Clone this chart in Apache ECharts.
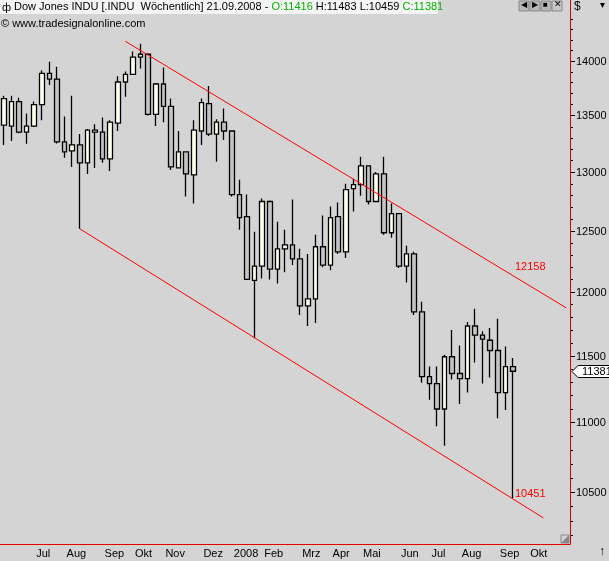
<!DOCTYPE html>
<html><head><meta charset="utf-8">
<script src="https://cdn.jsdelivr.net/npm/echarts@6/dist/echarts.min.js"></script>
<style>html,body{margin:0;padding:0;background:#d4d4d4}#c{width:609px;height:561px}</style>
</head><body><div id="c"></div>
<script>
// weekly OHLC: [open, close, low, high]
const ohlc = [
[13412,13652,13237,13679],[13404,13625,13272,13679],[13625,13351,13340,13661],[13351,13404,13246,13518],
[13404,13598,13395,13625],[13598,13884,13456,13911],[13884,13830,13777,13991],[13830,13263,13250,13946],
[13263,13175,13123,13491],[13184,13237,13044,13679],[13237,13079,12517,13333],[13079,13368,12983,13377],
[13351,13368,13035,13421],[13351,13114,13079,13482],[13114,13439,13009,13456],[13430,13804,13360,13857],
[13804,13875,13670,13902],[13875,14036,13875,14089],[14036,14062,13929,14161],[14062,13509,13500,14071],
[13509,13786,13404,13795],[13786,13581,13439,13938],[13581,13044,13018,13652],[13035,13175,13035,13360],
[13175,12983,12788,13175],[12975,13368,12729,13456],[13360,13616,13237,13652],[13607,13333,13316,13768],
[13333,13439,13088,13465],[13439,13360,13281,13563],[13360,12805,12788,13360],[12805,12610,12508,12932],
[12619,12100,12100,12805],[12092,12208,11635,12492],[12208,12746,12108,12771],[12746,12183,12100,12754],
[12183,12350,12067,12576],[12350,12383,12158,12508],[12383,12267,12217,12763],[12267,11889,11817,12350],
[11889,11944,11730,12308],[11944,12367,11754,12467],[12367,12217,12200,12627],[12217,12610,12175,12703],
[12619,12325,12308,12737],[12325,12847,12275,12898],[12856,12890,12661,12941],[12890,13053,12796,13132],
[13053,12746,12720,13053],[12746,12983,12746,13000],[12983,12483,12467,13132],[12483,12644,12442,12729],
[12644,12208,12192,12644],[12208,12308,12075,12375],[12308,11841,11817,12325],[11841,11341,11295,11921],
[11341,11288,11167,11417],[11288,11098,10971,11417],[11098,11492,10829,11508],[11492,11364,11318,11698],
[11364,11326,11136,11579],[11326,11730,11220,11762],[11730,11659,11447,11865],[11659,11627,11288,11690],
[11619,11540,11333,11714],[11540,11220,11030,11786],[11220,11417,11091,11571],[11416,11381,10459,11483]
];
const firstWeek = '2007-06-08';   // Friday of first weekly bar
const totalSlots = 75;
const lastLabelSlot = 70;
const upperTrend = [[16,14184],[74,11873]];
const lowerTrend = [[10,12516],[71,10320]];
const trendLabels = [[67,12158],[67,10451]];
const priceTicks = [];
for (let v = 10200; v <= 14400; v += 100) priceTicks.push(v);
const lastClose = 11381;
const monthNames = ['Jan','Feb','Mrz','Apr','Mai','Jun','Jul','Aug','Sep','Okt','Nov','Dez'];

const dates = [];
{ const d0 = new Date(firstWeek + 'T12:00:00Z');
  for (let i = 0; i < totalSlots; i++) { const d = new Date(d0.getTime() + i*7*864e5); dates.push(d.toISOString().slice(0,10)); } }
const isMonthStart = (i) => i < lastLabelSlot && +dates[i].slice(8,10) <= 7;
const L = Math.log;
const yMin = L(10142), yMax = L(14445);

const chart = echarts.init(document.getElementById('c'));
const font = 'Liberation Sans';
chart.setOption({
  backgroundColor: '#d4d4d4',
  animation: false,
  textStyle: {fontFamily: font},
  grid: {left: -4, right: 39, top: 14, bottom: 17},
  xAxis: {type: 'category', data: dates, boundaryGap: true,
    axisLine: {lineStyle: {color: '#e00000', width: 1}},
    axisTick: {interval: (i) => isMonthStart(i), alignWithLabel: true, length: 4, lineStyle: {color: '#000'}},
    axisLabel: {interval: (i) => isMonthStart(i), align: 'left', margin: 4, padding: [0,0,0,2], color: '#000', fontSize: 11, fontFamily: font,
      formatter: (v) => { const m = +v.slice(5,7); return m === 1 ? v.slice(0,4) : monthNames[m-1]; }},
    splitLine: {show: false}},
  yAxis: {type: 'value', position: 'right', min: yMin, max: yMax, scale: true,
    axisLine: {show: true, lineStyle: {color: '#e00000'}}, axisTick: {show: false}, axisLabel: {show: false}, splitLine: {show: false}},
  series: [
    {type: 'candlestick', barWidth: 5,
      data: ohlc.map(r => r.map(L)),
      itemStyle: {color: '#ffffee', color0: '#c4c4c4', borderColor: '#000', borderColor0: '#000', borderWidth: 1.3}},
    {type: 'line', data: upperTrend.map(p => [p[0], L(p[1])]), symbol: 'none', lineStyle: {color: '#ff0000', width: 1}},
    {type: 'line', data: lowerTrend.map(p => [p[0], L(p[1])]), symbol: 'none', lineStyle: {color: '#ff0000', width: 1}},
    {type: 'custom', data: trendLabels.map(p => [p[0], L(p[1])]), clip: false,
      renderItem: (params, api) => { const pt = api.coord([api.value(0), api.value(1)]);
        return {type: 'text', style: {text: String(trendLabels[params.dataIndex][1]), x: pt[0] + 2, y: pt[1] - 5, fill: '#ff0000', font: '11px ' + font, textVerticalAlign: 'middle'}}; }},
    {type: 'custom', data: priceTicks.map(v => [0, L(v)]), clip: false,
      renderItem: (params, api) => { const v = priceTicks[params.dataIndex]; const y = Math.round(api.coord([0, api.value(1)])[1]) + 0.5;
        const x = params.coordSys.x + params.coordSys.width; const major = v % 500 === 0;
        const children = [{type: 'line', shape: {x1: x + 1, y1: y, x2: x + (major ? 5 : 3), y2: y}, style: {stroke: '#000', lineWidth: 1}}];
        if (major) children.push({type: 'text', style: {text: String(v), x: x + 6, y: y, fill: '#000', font: '11px ' + font, textVerticalAlign: 'middle'}});
        return {type: 'group', children}; }},
    {type: 'custom', data: [[0, L(lastClose)]], clip: false,
      renderItem: (params, api) => { const y = Math.round(api.coord([0, api.value(1)])[1]) + 0.5; const x = params.coordSys.x + params.coordSys.width + 2;
        return {type: 'group', children: [
          {type: 'polygon', shape: {points: [[x, y], [x + 6, y - 6], [x + 45, y - 6], [x + 45, y + 6], [x + 6, y + 6]]}, style: {fill: '#fff', stroke: '#000', lineWidth: 1}},
          {type: 'text', style: {text: String(lastClose), x: x + 10, y: y, fill: '#000', font: '11px ' + font, textVerticalAlign: 'middle'}}]}; }}
  ],
  graphic: [
    {type: 'rect', shape: {x: 0, y: 0, width: 438, height: 14}, style: {fill: '#f4f4f4'}},
    {type: 'text', left: 14, top: 1, style: {font: '11px ' + font, fill: '#000',
      text: '{b|Dow Jones INDU [.INDU  Wöchentlich] 21.09.2008 - }{g|O:11416}{b| H:11483 L:10459 }{g|C:11381}',
      rich: {b: {fill: '#000', font: '11px ' + font}, g: {fill: '#00b000', font: '11px ' + font}}}},
    {type: 'text', left: 2, top: 2, style: {text: 'ф', font: '11px ' + font, fill: '#000'}},
    {type: 'text', left: 1, top: 18, style: {text: '© www.tradesignalonline.com', font: '11px ' + font, fill: '#000'}},
    {type: 'line', shape: {x1: 570.5, y1: 0, x2: 570.5, y2: 14}, style: {stroke: '#e00000'}},
    {type: 'group', children: [
      {type: 'rect', shape: {x: 519, y: 1, width: 10, height: 10}, style: {fill: '#b8b8b8', stroke: '#888'}},
      {type: 'rect', shape: {x: 530, y: 1, width: 10, height: 10}, style: {fill: '#b8b8b8', stroke: '#888'}},
      {type: 'rect', shape: {x: 541, y: 1, width: 10, height: 10}, style: {fill: '#b8b8b8', stroke: '#888'}},
      {type: 'rect', shape: {x: 552, y: 1, width: 10, height: 10}, style: {fill: '#c8c8c8', stroke: '#888'}},
      {type: 'text', x: 521, y: 1, style: {text: '◀', font: '8px ' + font, fill: '#000'}},
      {type: 'text', x: 532, y: 1, style: {text: '▶', font: '8px ' + font, fill: '#000'}},
      {type: 'text', x: 543, y: 1, style: {text: '■', font: '8px ' + font, fill: '#000'}},
      {type: 'text', x: 554, y: 0, style: {text: '✕', font: '9px ' + font, fill: '#000'}}]},
    {type: 'text', left: 574, top: 1, style: {text: '$', font: '12px ' + font, fill: '#000'}},
    {type: 'text', left: 600, top: 0, style: {text: '▾', font: '10px ' + font, fill: '#000'}},
    {type: 'text', left: 599, top: 546, style: {text: '↑', font: '12px ' + font, fill: '#000'}},
    {type: 'polygon', shape: {points: [[561,543],[569,535],[569,543]]}, style: {fill: '#888'}},
    {type: 'rect', shape: {x: 561, y: 535, width: 8, height: 8}, style: {fill: 'none', stroke: '#888'}}
  ]
});
</script></body></html>
